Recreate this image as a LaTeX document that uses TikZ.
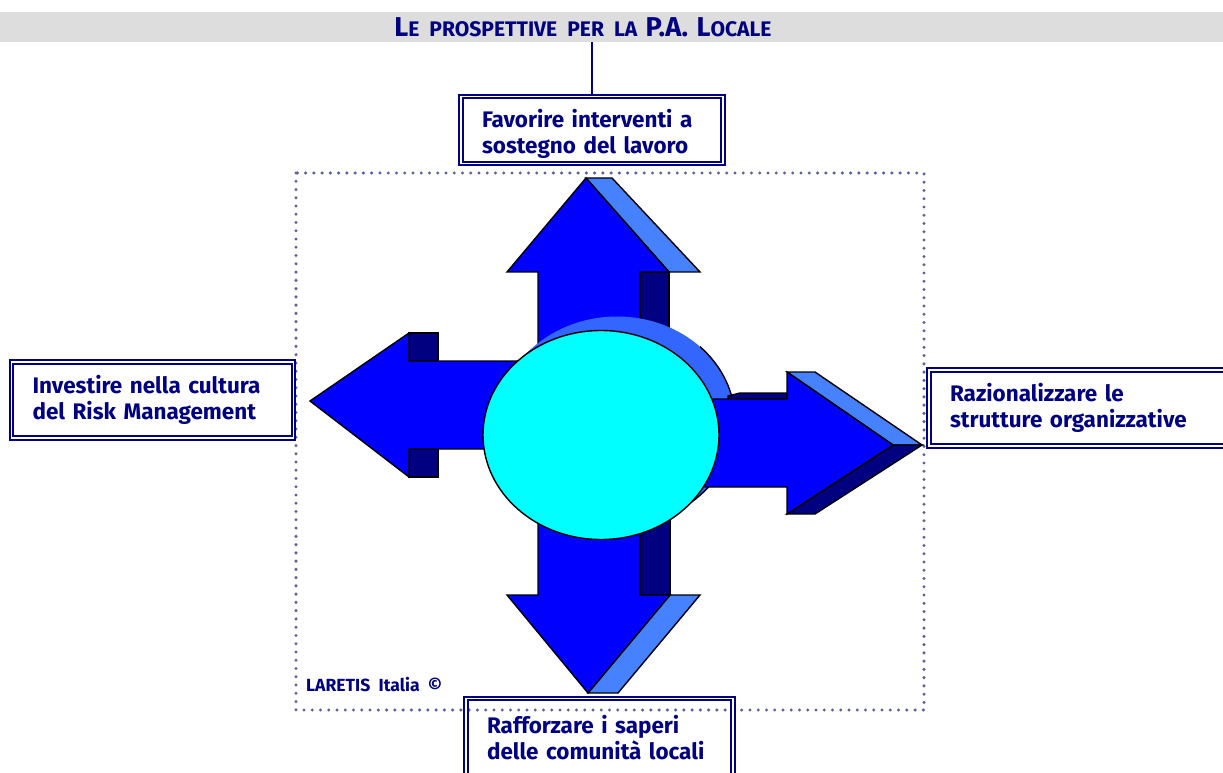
\documentclass[tikz,border=0pt]{standalone}
\usepackage{fontspec}
\setmainfont{Fira Sans}
\definecolor{navytxt}{HTML}{000080}
\definecolor{arrowblue}{HTML}{0000FF}
\definecolor{arrowdark}{HTML}{000080}
\definecolor{arrowlight}{HTML}{4682FF}
\definecolor{shadowblue}{HTML}{3366FF}
\definecolor{discfill}{HTML}{00FFFF}
\definecolor{framedot}{HTML}{5E5E9C}
\definecolor{bandgray}{HTML}{DDDDDD}
\newcommand{\capbig}[1]{{\fontsize{15.5}{15.5}\selectfont #1}}
\newcommand{\capsmall}[1]{{\fontsize{12}{12}\selectfont #1}}
\begin{document}
\begin{tikzpicture}[x=0.02cm,y=-0.02cm,
    goalbox/.style={draw=navytxt, double=white, double distance=0.9pt, line width=1.1pt,
      align=left, inner xsep=0.42cm, inner ysep=0pt, text=navytxt,
      font=\bfseries\fontsize{12.8}{14.7}\selectfont},
    arrowline/.style={draw=black, line width=0.8pt, line join=miter},
    dotframe/.style={draw=framedot, line width=1.9pt, line cap=round, dash pattern=on 0pt off 4.7pt}]
   \useasboundingbox (0,0) rectangle (1223,773);
   % Titelband
   \fill[bandgray] (0,12) rectangle (1223,42);
   \node[text=navytxt, font=\bfseries] (title) at (583,27)
     {\capbig{L}\capsmall{E\ \ PROSPETTIVE\ \ PER\ \ LA}\ \ \capbig{P.A.}\ \ \capbig{L}\capsmall{OCALE}};
   \coordinate (bandbot) at (592,42);
   % Rahmen
   \draw[dotframe] (296,173) rectangle (924,710);
   % Pfeil oben
   \fill[arrowdark,arrowline] (640,272) -- (669,272) -- (669,420) -- (640,420) -- cycle;
   \fill[arrowlight,arrowline] (586,178) -- (612,178) -- (700,272) -- (669,272) -- cycle;
   \fill[arrowblue,arrowline] (586,178) -- (669,272) -- (640,272) -- (640,420) -- (538,420) -- (538,272) -- (507,272) -- cycle;
   % Pfeil unten
   \fill[arrowdark,arrowline] (640,500) -- (670,500) -- (670,595) -- (640,595) -- cycle;
   \fill[arrowlight,arrowline] (670,595) -- (700,595) -- (618,693) -- (588,693) -- cycle;
   \fill[arrowblue,arrowline] (538,480) -- (640,480) -- (640,595) -- (670,595) -- (588,693) -- (507,595) -- (538,595) -- cycle;
   % Pfeil links
   \fill[arrowdark,arrowline] (409,333) rectangle (438,361);
   \fill[arrowdark,arrowline] (409,449) rectangle (438,477);
   \fill[arrowblue,arrowline] (310,401) -- (409,333) -- (409,361) -- (540,361) -- (540,449) -- (409,449) -- (409,477) -- cycle;
   % Kreis, Schatten
   \foreach \t in {0,...,8}
     \fill[shadowblue] (601+2*\t,435-1.75*\t) ellipse [x radius=118, y radius=104.5];
   \begin{scope}
     \clip (700,300) -- (770,300) -- (770,570) -- (660,570) -- (660,470) -- (700,470) -- cycle;
     \draw[black, line width=0.8pt] (617,421) ellipse [x radius=118, y radius=104.5];
   \end{scope}
   % Pfeil rechts
   \fill[arrowdark,arrowline] (728,396) -- (740,393) -- (787,393) -- (787,399) -- (728,399) -- cycle;
   \fill[arrowlight,arrowline] (787,372) -- (815,372) -- (922,445) -- (893,445) -- cycle;
   \fill[arrowdark,arrowline] (893,445) -- (922,445) -- (815,514) -- (787,514) -- cycle;
   \fill[arrowblue,arrowline] (705,399) -- (787,399) -- (787,372) -- (893,445) -- (787,514) -- (787,487) -- (705,487) -- cycle;
   % Kreis
   \filldraw[fill=discfill, draw=black, line width=0.8pt] (601,435) ellipse [x radius=118, y radius=104.5];
   % Ziele
   \node[goalbox, text width=4.4cm, minimum height=1.34cm] (top) at (592,130)
     {\rule{0pt}{15pt}Favorire interventi a\\sostegno del lavoro};
   \node[goalbox, text width=4.8cm, minimum height=1.52cm] (left) at (152.5,400)
     {Investire nella cultura\\del Risk Management};
   \node[goalbox, text width=5.6cm, minimum height=1.52cm] (right) at (1090,408)
     {Razionalizzare le\\strutture organizzative};
   \node[goalbox, text width=4.5cm, minimum height=1.7cm, text depth=0.66cm] (bottom) at (599.5,741)
     {Rafforzare i saperi\\delle comunità locali};
   \draw[navytxt, line width=1.1pt] (top.north) -- (bandbot);
   % Copyright
   \node[anchor=west, text=navytxt, font=\bfseries\fontsize{10}{12}\selectfont] (credit) at (300,685) {LARETIS\ \ Italia\ \ ©};
\end{tikzpicture}
\end{document}
